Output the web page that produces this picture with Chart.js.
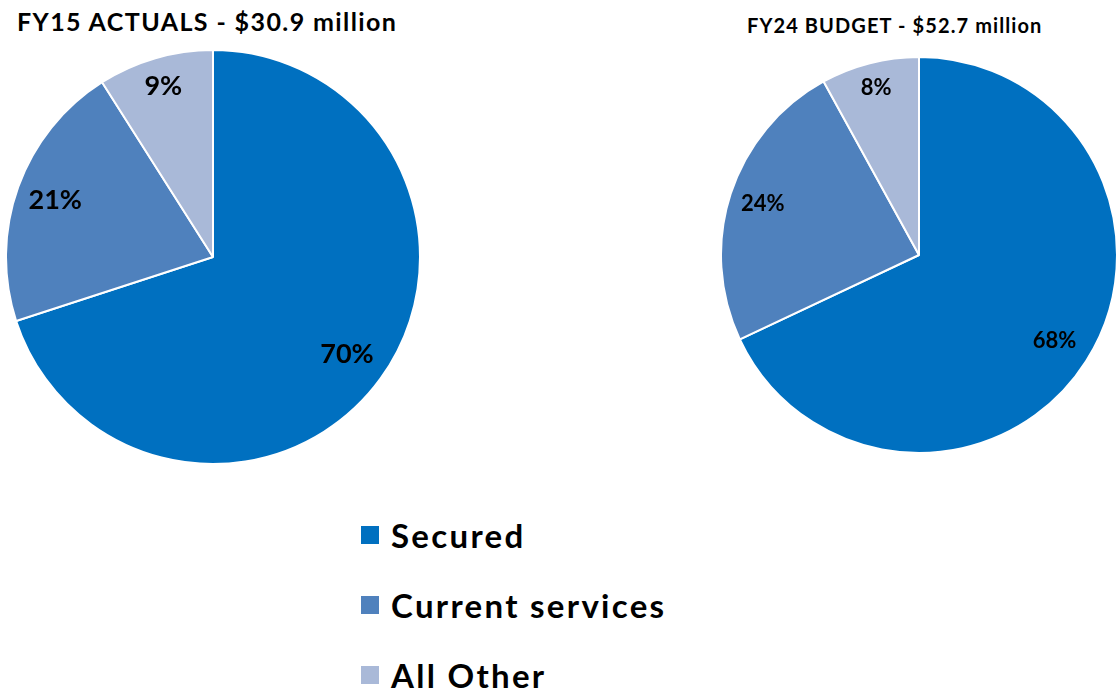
<!DOCTYPE html>
<html>
<head>
<meta charset="utf-8">
<script src="https://cdn.jsdelivr.net/npm/chart.js@4.4.1/dist/chart.umd.min.js"></script>
<style>
  html, body { margin: 0; padding: 0; background: #ffffff; }
  body { width: 1118px; height: 698px; position: relative; overflow: hidden; font-family: Lato, "Open Sans", sans-serif; }
  .title { position: absolute; font-weight: 700; color: #000; white-space: nowrap; line-height: 1; }
  #t1 { left: 17px; top: 9px; font-size: 25px; letter-spacing: 1.4px; }
  #t2 { left: 747px; top: 15px; font-size: 20px; letter-spacing: 1.1px; }
  .pie { position: absolute; }
  #wrap1 { left: 5px; top: 49px; width: 416px; height: 416px; }
  #wrap2 { left: 720px; top: 56px; width: 398px; height: 398px; }
  #legend { position: absolute; left: 361px; top: 500px; }
  .item { display: flex; align-items: center; height: 70px; }
  .item .sw { width: 18px; height: 18px; margin-right: 12px; }
  .item span { font-size: 33px; font-weight: 700; color: #000; line-height: 1; letter-spacing: 2.3px; }
</style>
</head>
<body>
<div class="title" id="t1"></div>
<div class="title" id="t2"></div>
<div class="pie" id="wrap1"><canvas id="pie1" width="416" height="416"></canvas></div>
<div class="pie" id="wrap2"><canvas id="pie2" width="398" height="398"></canvas></div>
<div id="legend"></div>
<script>
// Revenue mix by source
const categories = ['Secured', 'Current services', 'All Other'];
const fy15Actuals = [70, 21, 9];
const fy24Budget = [68, 24, 8];
const titles = ['FY15 ACTUALS - $30.9 million', 'FY24 BUDGET - $52.7 million'];
const sliceColors = ['#0070C0', '#4F81BD', '#A9B9D8'];

document.getElementById('t1').textContent = titles[0];
document.getElementById('t2').textContent = titles[1];

// Percent labels placed near the rim, at each slice's mid-angle
const sliceLabels = {
  id: 'sliceLabels',
  afterDatasetsDraw(chart, args, opts) {
    const ctx = chart.ctx;
    const meta = chart.getDatasetMeta(0);
    const data = chart.data.datasets[0].data;
    ctx.save();
    ctx.font = '700 ' + opts.size + 'px Lato, "Open Sans", sans-serif';
    ctx.fillStyle = '#000';
    ctx.textAlign = 'center';
    ctx.textBaseline = 'middle';
    meta.data.forEach((arc, i) => {
      const p = arc.getProps(['x', 'y', 'startAngle', 'endAngle', 'outerRadius'], true);
      const mid = (p.startAngle + p.endAngle) / 2;
      const r = p.outerRadius * (opts.ratios[i] || 0.8);
      ctx.fillText(data[i] + '%', p.x + Math.cos(mid) * r, p.y + Math.sin(mid) * r);
    });
    ctx.restore();
  }
};

function makePie(id, values, size, ratios) {
  return new Chart(document.getElementById(id), {
    type: 'pie',
    data: {
      labels: categories,
      datasets: [{
        data: values,
        backgroundColor: sliceColors,
        borderColor: '#ffffff',
        borderWidth: 2
      }]
    },
    options: {
      responsive: false,
      animation: false,
      layout: { padding: 0 },
      plugins: {
        legend: { display: false },
        tooltip: { enabled: false },
        title: { display: false },
        sliceLabels: { size: size, ratios: ratios }
      }
    },
    plugins: [sliceLabels]
  });
}

makePie('pie1', fy15Actuals, 27, [0.8, 0.81, 0.86]);
makePie('pie2', fy24Budget, 22, [0.81, 0.83, 0.87]);

// Legend built from the same categories and colours
const legend = document.getElementById('legend');
categories.forEach((c, i) => {
  const row = document.createElement('div');
  row.className = 'item';
  const sw = document.createElement('div');
  sw.className = 'sw';
  sw.style.background = sliceColors[i];
  const tx = document.createElement('span');
  tx.textContent = c;
  row.appendChild(sw);
  row.appendChild(tx);
  legend.appendChild(row);
});
</script>
</body>
</html>
